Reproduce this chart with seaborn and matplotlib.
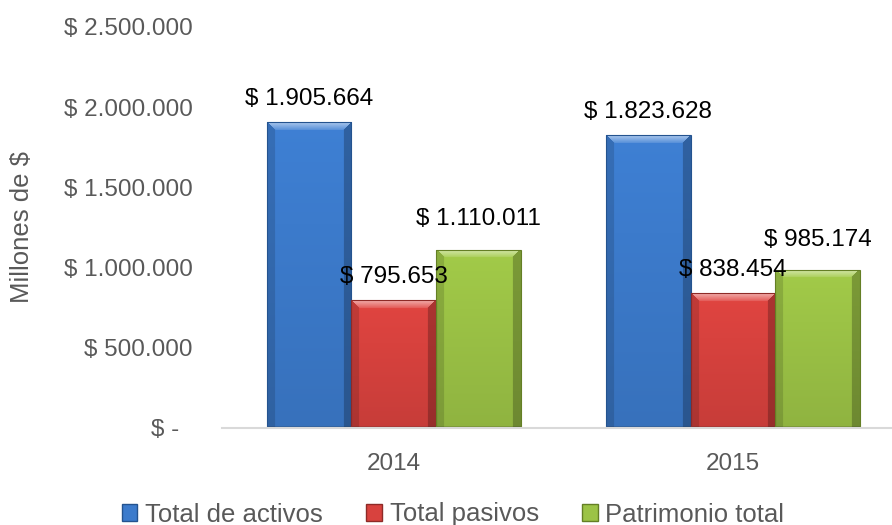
import numpy as np
import pandas as pd
import matplotlib
matplotlib.use("Agg")
import matplotlib.pyplot as plt
from matplotlib.ticker import FuncFormatter
from matplotlib.patches import Patch
from matplotlib.colors import to_rgb
import seaborn as sns

years = ["2014", "2015"]
series = ["Total de activos", "Total pasivos", "Patrimonio total"]
activos = [1905664, 1823628]
pasivos = [795653, 838454]
patrimonio = [1110011, 985174]

colors = ["#3C7BCC", "#D8423E", "#9CC346"]
edges = ["#24538F", "#8E2A27", "#647F25"]
label_pad = [9, 9, 14]


def fmt_money(v, pos=None):
    if v == 0:
        return "$ -  "
    return "$ " + f"{v:,.0f}".replace(",", ".")


def bevel_image(color, w, h, b=8):
    # bevel look: light top facet (trapezoid), darker side facets, fade to bottom
    rgb = np.array(to_rgb(color))
    t = np.linspace(0, 1, h)[:, None, None]
    img = np.ones((h, w, 3)) * rgb * (1.04 - 0.12 * t)
    yy, xx = np.mgrid[0:h, 0:w]
    side_l = (xx < b) & (xx <= yy)
    side_r = (xx >= w - b) & (w - 1 - xx <= yy)
    top = (yy < b) & ~side_l & ~side_r
    shade = np.linspace(0.55, 0.15, b)
    for i in range(min(b, h)):
        row = top[i]
        img[i, row] = img[i, row] * (1 - shade[i]) + shade[i]
    img[side_l] *= 0.86
    img[side_r] *= 0.76
    img[-2:] *= 0.85
    return np.clip(img, 0, 1)


df = pd.DataFrame({
    "year": years * 3,
    "serie": [s for s in series for _ in years],
    "valor": activos + pasivos + patrimonio,
})

sns.set_style("white")
plt.rcParams["font.family"] = ["Liberation Sans", "DejaVu Sans"]

fig = plt.figure(figsize=(8.92, 5.25), dpi=100)
ax = fig.add_axes([0.249, 0.1848, 0.751, 0.7638])

sns.barplot(
    data=df, x="year", y="valor", hue="serie",
    order=years, hue_order=series, palette=colors, saturation=1,
    width=0.75, gap=0, legend=False, ax=ax,
    edgecolor="none", linewidth=0,
)

ax.set_ylim(0, 2500000)
ax.set_xlim(-0.506, 1.469)
fig.canvas.draw()

for container, c, ec, pad in zip(ax.containers, colors, edges, label_pad):
    for bar in container:
        bb = bar.get_window_extent()
        w, h = max(int(bb.width), 2), max(int(bb.height), 2)
        x0, y0 = bar.get_x(), bar.get_y()
        im = ax.imshow(
            bevel_image(c, w, h), extent=[x0, x0 + bar.get_width(), y0, y0 + bar.get_height()],
            aspect="auto", zorder=bar.get_zorder() + 0.1, interpolation="bilinear",
        )
        im.set_clip_path(bar)
        bar.set_edgecolor(ec)
        bar.set_linewidth(0.8)
        bar.set_zorder(bar.get_zorder() + 0.2)
        bar.set_facecolor("none")
    labels = [fmt_money(b.get_height()) for b in container]
    ax.bar_label(container, labels=labels, padding=pad, fontsize=17.5, color="black")

ax.set_ylim(0, 2500000)
ax.set_xlim(-0.506, 1.469)
ax.set_yticks([0, 500000, 1000000, 1500000, 2000000, 2500000])
ax.yaxis.set_major_formatter(FuncFormatter(fmt_money))
ax.tick_params(axis="both", length=0, labelsize=17.5, labelcolor="#595959")
ax.tick_params(axis="y", pad=21)
ax.tick_params(axis="x", pad=18)
ax.set_xlabel("")
ax.set_ylabel("")

fig.text(0.025, 0.567, "Millones de $", rotation=90, ha="center", va="center",
         fontsize=18.5, color="#595959")

for s in ["top", "right", "left"]:
    ax.spines[s].set_visible(False)
ax.spines["bottom"].set_color("#D9D9D9")
ax.spines["bottom"].set_linewidth(1.5)

handles = [Patch(facecolor=c, edgecolor=e, label=s) for c, e, s in zip(colors, edges, series)]
fig.legend(
    handles=handles, loc="center", bbox_to_anchor=(0.508, 0.02),
    ncol=3, frameon=False, fontsize=18.5, labelcolor="#595959",
    handlelength=0.6, handleheight=0.6, handletextpad=0.3, columnspacing=1.7,
    borderpad=0, borderaxespad=0,
)

fig.savefig("out.png", dpi=100)
